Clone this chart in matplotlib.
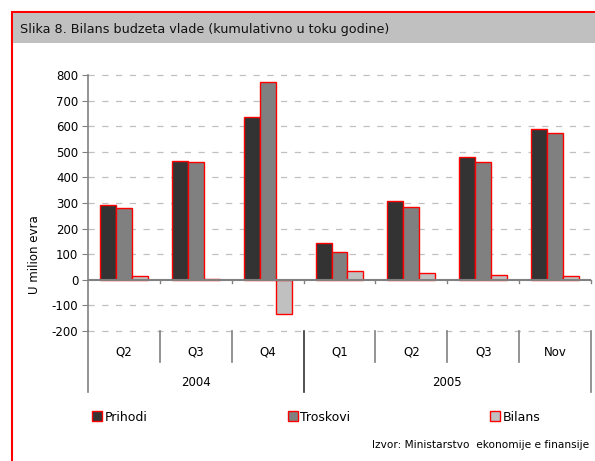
import numpy as np
import matplotlib
matplotlib.use("Agg")
import matplotlib.pyplot as plt
from matplotlib.patches import Rectangle, Patch
import matplotlib.transforms as mtransforms

quarters = ["Q2", "Q3", "Q4", "Q1", "Q2", "Q3", "Nov"]
years = ["2004", "2005"]
year_spans = [(0, 3), (3, 7)]
prihodi = [293, 464, 635, 143, 307, 478, 589]
troskovi = [281, 462, 771, 107, 284, 460, 574]
bilans = [13, 2, -134, 36, 25, 17, 14]
series_names = ["Prihodi", "Troskovi", "Bilans"]
colors = ["#333333", "#808080", "#c0c0c0"]

W, H = 595, 461
fig = plt.figure(figsize=(W / 100, H / 100), dpi=100)
plt.rcParams['font.family'] = ['DejaVu Sans']

# frame + title bar (right and bottom edges run off the image)
fig.patches.append(Rectangle((11.5 / W, -0.1), 1.2, (H - 12.5) / H + 0.1, transform=fig.transFigure,
                             fill=False, edgecolor="#ff0000", lw=1.5, clip_on=False))
fig.patches.append(Rectangle((12.5 / W, (H - 43) / H), 1, 29.5 / H, transform=fig.transFigure,
                             facecolor="#c0c0c0", edgecolor="none"))
fig.text(20 / W, (H - 29) / H, "Slika 8. Bilans budzeta vlade (kumulativno u toku godine)",
         fontsize=9.2, va="center", ha="left", color="#111111")

ax = fig.add_axes([88 / W, (H - 331) / H, (591 - 88) / W, (331 - 75) / H])
ax.set_xlim(0, 7)
ax.set_ylim(-200, 800)

x = np.arange(len(quarters)) + 0.5
bw = 16 / 72
for i, (vals, c) in enumerate(zip([prihodi, troskovi, bilans], colors)):
    ax.bar(x + (i - 1) * bw, vals, bw, color=c, edgecolor="#ff0000", linewidth=1, zorder=3)

yt = np.arange(-200, 801, 100)
ax.set_yticks(yt)
ax.set_yticklabels([str(v) for v in yt], fontsize=8.5)
for v in yt:
    if v != 0:
        ax.axhline(v, color="#c0c0c0", lw=0.9, ls=(0, (5, 6)), zorder=1, clip_on=False)
ax.axhline(0, color="#808080", lw=1.5, zorder=4)
ax.set_xticks([])
for s in ["top", "right", "bottom"]:
    ax.spines[s].set_visible(False)
ax.spines["left"].set_color("#808080")
ax.spines["left"].set_linewidth(1.2)
ax.spines["left"].set_bounds(-200, 800)
ax.tick_params(axis="y", length=4, color="#808080", pad=3)

# small ticks on zero line
for b in range(1, 8):
    ax.plot([b, b], [0, -12], color="#808080", lw=1, zorder=4, clip_on=False)

# category axis below
tr = mtransforms.blended_transform_factory(ax.transData, ax.transAxes)
y_q = -31 / 256
y_y = -61 / 256
for b in range(0, 8):
    bottom = y_y if b in (0, 3, 7) else y_q
    ax.plot([b, b], [0, bottom], transform=tr, color="#808080" if b != 3 else "#333333",
            lw=1.2, clip_on=False)
for xi, q in zip(x, quarters):
    ax.text(xi, -21 / 256, q, transform=tr, ha="center", va="center", fontsize=8.5)
for (a, b), yr in zip(year_spans, years):
    ax.text((a + b) / 2, -51 / 256, yr, transform=tr, ha="center", va="center", fontsize=8.5)

fig.text(35 / W, (H - 255) / H, "U milion evra", rotation=90, ha="center", va="center", fontsize=8.5)

handles = [Patch(facecolor=c, edgecolor="#ff0000", lw=1) for c in colors]
fig.legend(handles, series_names, loc="center left", bbox_to_anchor=(81 / W, (H - 417) / H),
           ncol=3, frameon=False, fontsize=9, handlelength=0.8, handleheight=0.8,
           handletextpad=0.2, columnspacing=11.2)

fig.text(589 / W, (H - 445) / H, "Izvor: Ministarstvo  ekonomije e finansije",
         ha="right", va="center", fontsize=7.6)

fig.savefig("out.png", dpi=100)
